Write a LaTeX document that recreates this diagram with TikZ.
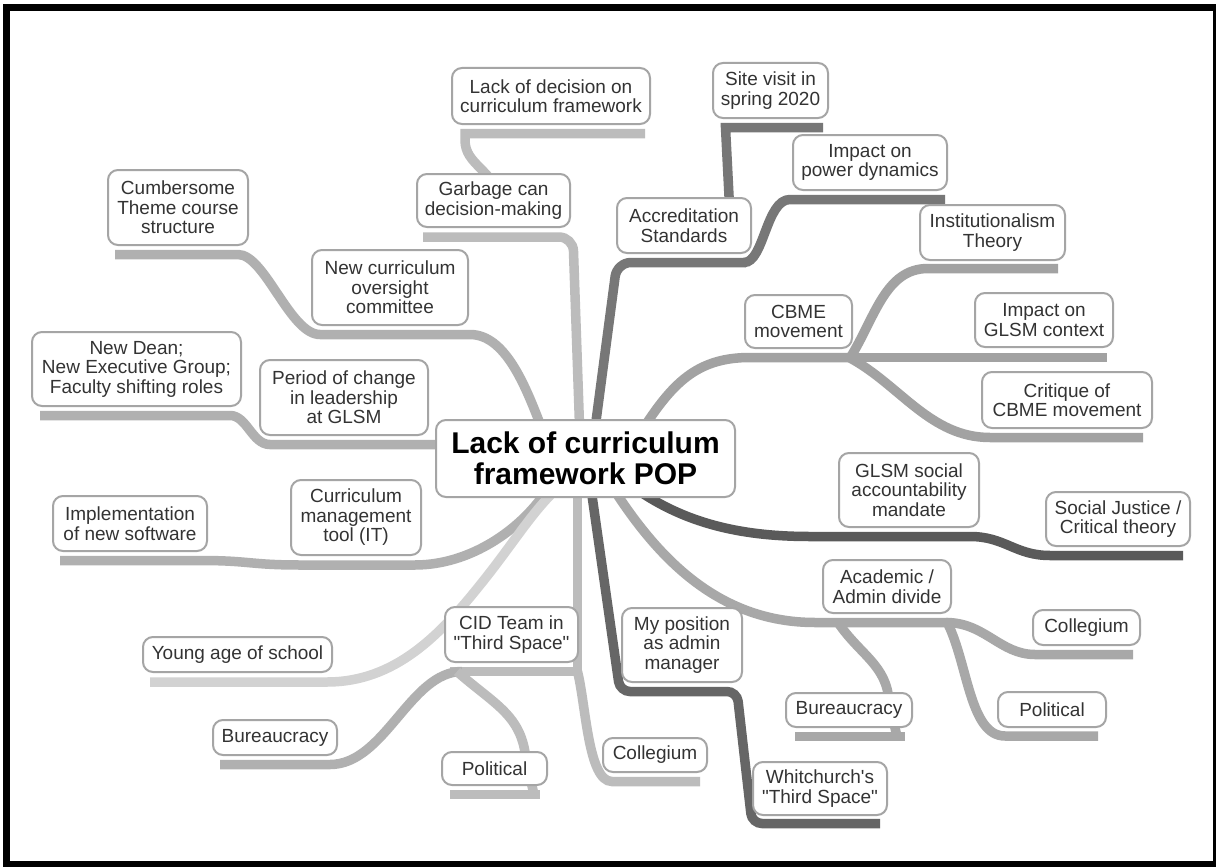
\documentclass[tikz,border=0pt]{standalone}
\usepackage{fontspec}
\newfontfamily\lib{Liberation Sans}
\usetikzlibrary{backgrounds}
\definecolor{gA}{HTML}{BCBCBC}
\definecolor{gB}{HTML}{B0B0B0}
\definecolor{gC}{HTML}{A8A8A8}
\definecolor{gD}{HTML}{777777}
\definecolor{gE}{HTML}{D2D2D2}
\definecolor{gF}{HTML}{666666}
\definecolor{gG}{HTML}{5A5A5A}
\definecolor{gH}{HTML}{A2A2A2}
\definecolor{boxc}{HTML}{A5A5A5}
\definecolor{txt}{HTML}{333333}
\tikzset{
  box/.style={draw=boxc, line width=2pt, rounded corners=10pt, fill=white, align=center,
    inner sep=0pt, text=txt, font=\lib\fontsize{19}{19.5}\selectfont},
  mainbox/.style={box, text=black, font=\lib\fontsize{30}{31}\selectfont\bfseries},
  br/.style={line width=9.5pt},
}
\begin{document}
\begin{tikzpicture}[x=1pt,y=-1pt]
\useasboundingbox (0,0) rectangle (1216,867);

% nodes
\node[mainbox, minimum width=299pt, minimum height=77pt] (c) at (585.5,458.5) {Lack of curriculum\\framework POP};
\node[box, minimum width=198pt, minimum height=56pt] (dec) at (551,96) {Lack of decision on\\curriculum framework};
\node[box, minimum width=153pt, minimum height=53pt] (garb) at (493.5,200.5) {Garbage can\\decision-making};
\node[box, minimum width=115pt, minimum height=55pt] (site) at (770.5,90.5) {Site visit in\\spring 2020};
\node[box, minimum width=134pt, minimum height=55pt] (accr) at (684,225.5) {Accreditation\\Standards};
\node[box, minimum width=154pt, minimum height=55pt] (power) at (870,162.5) {Impact on\\power dynamics};
\node[box, minimum width=140pt, minimum height=75pt] (cumb) at (178,207.5) {Cumbersome\\Theme course\\structure};
\node[box, minimum width=156pt, minimum height=75pt] (newc) at (390,287.5) {New curriculum\\oversight\\committee};
\node[box, minimum width=209pt, minimum height=74pt] (dean) at (136.5,369) {New Dean;\\New Executive Group;\\Faculty shifting roles};
\node[box, minimum width=168pt, minimum height=75pt] (period) at (344,397.5) {Period of change\\in leadership\\at GLSM};
\node[box, minimum width=154pt, minimum height=55pt] (impl) at (130,523.5) {Implementation\\of new software};
\node[box, minimum width=130pt, minimum height=75pt] (cmt) at (356,517.5) {Curriculum\\management\\tool (IT)};
\node[box, minimum width=189pt, minimum height=35pt] (young) at (237.5,654.5) {Young age of school};
\node[box, minimum width=133pt, minimum height=55pt] (cid) at (511.5,634.5) {CID Team in\\"Third Space"};
\node[box, minimum width=124pt, minimum height=35pt] (burA) at (275,737.5) {Bureaucracy};
\node[box, minimum width=105pt, minimum height=33pt] (polA) at (494.5,768.5) {Political};
\node[box, minimum width=104pt, minimum height=34pt] (colA) at (655,755) {Collegium};
\node[box, minimum width=120pt, minimum height=74pt] (mypos) at (682,645) {My position\\as admin\\manager};
\node[box, minimum width=134pt, minimum height=53pt] (whit) at (820,788.5) {Whitchurch's\\"Third Space"};
\node[box, minimum width=128pt, minimum height=53pt] (acad) at (887,586.5) {Academic /\\Admin divide};
\node[box, minimum width=126pt, minimum height=34pt] (burB) at (849,710) {Bureaucracy};
\node[box, minimum width=107pt, minimum height=35pt] (colB) at (1086.5,627.5) {Collegium};
\node[box, minimum width=108pt, minimum height=35pt] (polB) at (1052,709.5) {Political};
\node[box, minimum width=140pt, minimum height=74pt] (glsm) at (909,490) {GLSM social\\accountability\\mandate};
\node[box, minimum width=144pt, minimum height=54pt] (sj) at (1118,519) {Social Justice /\\Critical theory};
\node[box, minimum width=107pt, minimum height=53pt] (cbme) at (798.5,321.5) {CBME\\movement};
\node[box, minimum width=145pt, minimum height=55pt] (inst) at (992.5,232.5) {Institutionalism\\Theory};
\node[box, minimum width=138pt, minimum height=54pt] (impg) at (1044,320) {Impact on\\GLSM context};
\node[box, minimum width=170pt, minimum height=56pt] (crit) at (1067,400) {Critique of\\CBME movement};

\begin{scope}[on background layer]
% frame
\fill[white] (0,0) rectangle (1216,867);
\fill[black] (3,4) rectangle (1216,867);
\fill[white] (10,11) rectangle (1213,861);
% garbage can branch
\draw[br,gA,rounded corners=14pt] ([xshift=-6pt,yshift=-6pt]c.north) -- (573,237) -- (423,237);
\draw[br,gA] (645,133.5) -- (465,133.5) -- (465,140) .. controls (465,165) and (492,168) .. (505,205);
% accreditation branch
\draw[br,gD,rounded corners=14pt] ([xshift=10pt,yshift=-6pt]c.north) -- (617,262.5) -- (746,262.5);
\draw[br,gD] (744,262.5) .. controls (764,262.5) and (766,199.5) .. (790,199.5) -- (945,199.5);
\draw[br,gD] (823,127.5) -- (725.5,127.5) -- (731,235);
% new curriculum oversight branch
\draw[br,gB] (115,254.5) -- (238,254.5) .. controls (265,254.5) and (290,334.5) .. (320,334.5) -- (470,334.5) .. controls (505,334.5) and (525,385) .. ([xshift=-45pt,yshift=-6pt]c.north);
% period of change branch
\draw[br,gB] (40,415.5) -- (230,415.5) .. controls (247,415.5) and (252,444.5) .. (270,444.5) -- ([xshift=8pt,yshift=14pt]c.west);
% curriculum management tool branch
\draw[br,gB] (60,560.5) -- (200,560.5) .. controls (250,560.5) and (250,565) .. (300,565) -- (415,565) .. controls (470,565) and (520,530) .. ([xshift=-40pt,yshift=6pt]c.south);
% young age branch
\draw[br,gE] (150,682) -- (327,682) .. controls (395,682) and (440,635) .. (480,585) .. controls (510,548) and (530,515) .. ([xshift=-32pt,yshift=6pt]c.south);
% CID branch
\draw[br,gA] ([xshift=-8pt,yshift=6pt]c.south) -- (577.5,671.5) -- (450,671.5);
\draw[br,gB] (220,764.5) -- (330,764.5) .. controls (385,764.5) and (410,671.5) .. (462,671.5);
\draw[br,gA] (457,671.5) .. controls (495,705) and (522,715) .. (526,760) -- (534,794.5);
\draw[br,gA] (450,794.5) -- (540,794.5);
\draw[br,gA] (577.5,671.5) .. controls (586,705) and (588,781.5) .. (612,781.5) -- (700,781.5);
% my position branch
\draw[br,gF,rounded corners=10pt] ([xshift=6pt,yshift=6pt]c.south) -- (620,691.5) -- (737,691.5) -- (752,823.5) -- (880,823.5);
% academic / admin branch
\draw[br,gC] ([xshift=30pt,yshift=6pt]c.south) .. controls (660,560) and (720,622.5) .. (815,622.5) -- (948,622.5);
\draw[br,gC] (838,622.5) .. controls (860,655) and (887,665) .. (889,702) -- (897,736.5);
\draw[br,gC] (795,736.5) -- (905,736.5);
\draw[br,gC] (946,622.5) .. controls (985,622.5) and (1000,654.5) .. (1035,654.5) -- (1133,654.5);
\draw[br,gC] (948,624) .. controls (968,665) and (970,736) .. (1005,736) -- (1098,736);
% GLSM branch
\draw[br,gG] ([xshift=55pt,yshift=6pt]c.south) .. controls (690,525) and (745,536.5) .. (810,536.5) -- (970,536.5) .. controls (1005,536.5) and (1015,555.5) .. (1050,555.5) -- (1183,555.5);
% CBME branch
\draw[br,gH] ([xshift=60pt,yshift=-6pt]c.north) .. controls (675,380) and (700,357.5) .. (750,357.5) -- (852,357.5);
\draw[br,gH] (850,358) .. controls (875,318) and (885,268.5) .. (928,268.5) -- (1058,268.5);
\draw[br,gH] (850,357.5) -- (1107,357.5);
\draw[br,gH] (850,358) .. controls (900,385) and (930,437.5) .. (990,437.5) -- (1143,437.5);
\end{scope}
\end{tikzpicture}
\end{document}
